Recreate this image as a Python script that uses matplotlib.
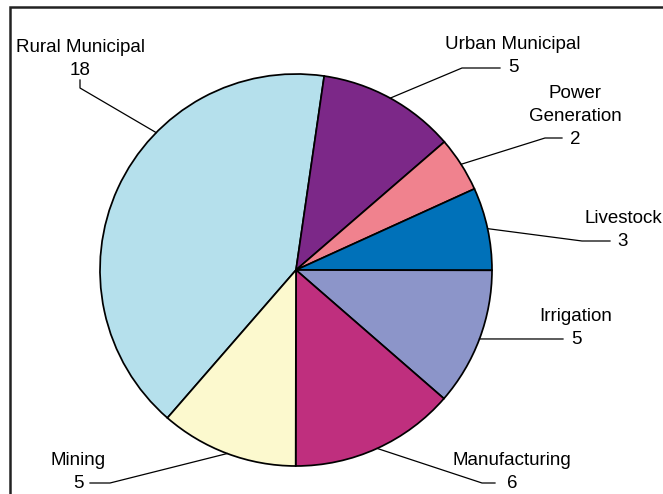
import numpy as np
import matplotlib
matplotlib.use("Agg")
import matplotlib.pyplot as plt
from matplotlib.patches import Rectangle

plt.rcParams['font.family'] = ['Liberation Sans', 'DejaVu Sans']

# water use by sector
sectors = ["Rural Municipal", "Urban Municipal", "Power\nGeneration", "Livestock",
           "Irrigation", "Manufacturing", "Mining"]
counts = [18, 5, 2, 3, 5, 6, 5]
colors = ["#b5e0ec", "#7c2888", "#f0828e", "#0071b9", "#8c95c9", "#bf2f7e", "#fcf9ce"]

W, H = 663, 494
CX, CY, R = 296, 270, 196   # pie centre / radius in pixels


def px(x, y):
    # pixel position -> data units (pie radius = 1)
    return (x - CX) / R, (CY - y) / R


fig = plt.figure(figsize=(W / 100, H / 100), dpi=100)
ax = fig.add_axes([0, 0, 1, 1])

start = 229
wedges, _ = ax.pie(counts, colors=colors, startangle=start, counterclock=False,
                   radius=1, center=(0, 0), frame=True,
                   wedgeprops=dict(edgecolor='black', linewidth=1.25))
ax.set_xlim(-CX / R, (W - CX) / R)
ax.set_ylim(-(H - CY) / R, CY / R)
ax.axis('off')

# leader lines: elbow, line end, label centre (pixels)
elbows = [(80, 88), (462, 68), (545, 138), (582, 241), (552, 339), (482, 483), (110, 483)]
ends = [(80, 80), (500, 68), (562, 138), (610, 241), (563, 339), (495, 483), (90, 483)]
label_pos = [(80, 70), (513, 67), (575, 139), (623, 241), (576, 339), (512, 483), (78, 483)]
anchor_override = {0: 135.5, 4: -20.6}

total = sum(counts)
a = start
for i, (name, v) in enumerate(zip(sectors, counts)):
    span = v / total * 360
    mid = a - span / 2
    a -= span
    ang = np.radians(anchor_override.get(i, mid))
    p0 = (np.cos(ang), np.sin(ang))
    p1 = px(*elbows[i])
    p2 = px(*ends[i])
    ax.plot([p0[0], p1[0], p2[0]], [p0[1], p1[1], p2[1]], color='black', lw=0.9)
    lx, ly = px(*label_pos[i])
    ax.text(lx, ly, str(v), ha='center', va='center', fontsize=13.5)
    nl = name.count("\n")
    ax.text(lx, ly + (22.5 + 11.5 * nl) / R, name, ha='center', va='center',
            fontsize=13.5, linespacing=1.4)

# outer frame
fig.patches.append(Rectangle((9.5 / W, -0.1), 1.2, (H - 7) / H + 0.1, transform=fig.transFigure,
                             fill=False, edgecolor='#222222', linewidth=1.8))

fig.savefig("out.png", dpi=100)
